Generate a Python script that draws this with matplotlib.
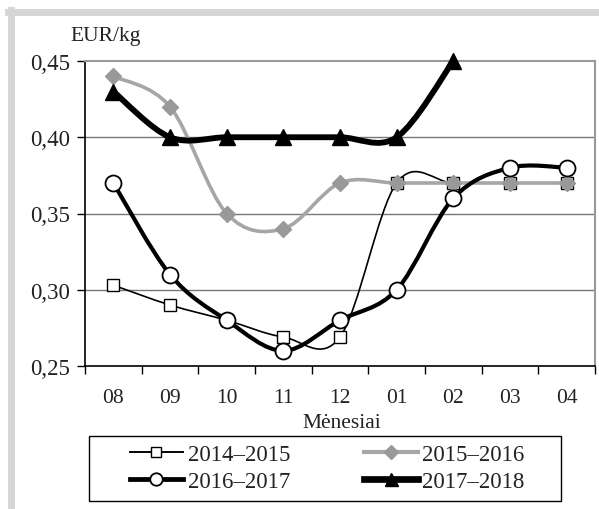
import numpy as np
import matplotlib.pyplot as plt
from matplotlib.path import Path
from matplotlib.patches import PathPatch, Rectangle
from matplotlib.lines import Line2D

plt.rcParams['font.family'] = ['Liberation Serif', 'DejaVu Serif']

# data
menesiai = ['08', '09', '10', '11', '12', '01', '02', '03', '04']
s2014 = [0.303, 0.29, 0.28, 0.269, 0.269, 0.37, 0.37, 0.37, 0.37]
s2015 = [0.44, 0.42, 0.35, 0.34, 0.37, 0.37, 0.37, 0.37, 0.37]
s2016 = [0.37, 0.31, 0.28, 0.26, 0.28, 0.30, 0.36, 0.38, 0.38]
s2017 = [0.43, 0.40, 0.40, 0.40, 0.40, 0.40, 0.45]
labels = ['2014–2015', '2015–2016', '2016–2017', '2017–2018']


def smooth_path(y):
    # Excel style smoothed line: Catmull-Rom turned into cubic Bezier segments
    x = np.arange(len(y), dtype=float)
    pts = np.column_stack([x, np.asarray(y, dtype=float)])
    verts = [pts[0]]
    codes = [Path.MOVETO]
    n = len(pts)
    for i in range(n - 1):
        p0 = pts[i - 1] if i > 0 else pts[i]
        p1 = pts[i]
        p2 = pts[i + 1]
        p3 = pts[i + 2] if i + 2 < n else pts[i + 1]
        c1 = p1 + (p2 - p0) / 6.0
        c2 = p2 - (p3 - p1) / 6.0
        verts += [c1, c2, p2]
        codes += [Path.CURVE4] * 3
    return Path(verts, codes)


styles = [
    dict(color='black', lw=1.2, marker='s', ms=8.5, mfc='white', mec='black', mew=1.0),
    dict(color='#a6a6a6', lw=2.6, marker='D', ms=8.5, mfc='#999999', mec='#999999', mew=1.0),
    dict(color='black', lw=3.0, marker='o', ms=11.5, mfc='white', mec='black', mew=1.3),
    dict(color='black', lw=4.2, marker='^', ms=12, mfc='black', mec='black', mew=1.0),
]
data = [s2014, s2015, s2016, s2017]

fig = plt.figure(figsize=(5.99, 5.10), dpi=100)
ax = fig.add_axes([85 / 599, 1 - 367 / 510, 510 / 599, 305 / 510])

handles = []
for k, (vals, st) in enumerate(zip(data, styles)):
    patch = PathPatch(smooth_path(vals), fill=False, edgecolor=st['color'],
                      lw=st['lw'], capstyle='round', joinstyle='round', zorder=3 + k)
    ax.add_patch(patch)
    ax.plot(range(len(vals)), vals, ls='none', marker=st['marker'], ms=st['ms'],
            mfc=st['mfc'], mec=st['mec'], mew=st['mew'], zorder=3 + k, clip_on=False)
    handles.append(Line2D([], [], color=st['color'], lw=st['lw'] * 1.15, marker=st['marker'],
                          ms=st['ms'] * 0.78, mfc=st['mfc'], mec=st['mec'], mew=st['mew']))

ax.set_xlim(-0.5, 8.5)
ax.set_ylim(0.25, 0.45)
ax.set_yticks([0.25, 0.30, 0.35, 0.40, 0.45])
ax.set_yticklabels(['0,25', '0,30', '0,35', '0,40', '0,45'])
ax.set_xticks(range(9))
ax.set_xticklabels(menesiai)
ax.set_xticks(np.arange(-0.5, 9, 1), minor=True)
ax.tick_params(axis='x', which='major', length=0, pad=16, labelsize=15.5, labelcolor='#222222')
ax.tick_params(axis='x', which='minor', length=6, width=1, direction='out')
ax.tick_params(axis='y', length=6, width=1, direction='out', pad=5, labelsize=16.5,
               labelcolor='#222222')

for g in [0.30, 0.35, 0.40]:
    ax.axhline(g, color='#777777', lw=1.0, zorder=1)
ax.spines['top'].set_color('#999999')
ax.spines['right'].set_color('#999999')
ax.spines['top'].set_linewidth(1.5)
ax.spines['right'].set_linewidth(1.5)
ax.spines['left'].set_linewidth(1.2)
ax.spines['bottom'].set_linewidth(1.2)

fig.text(70 / 599, 1 - 37 / 510, 'EUR/kg', fontsize=15.5, color='#222222', va='center')
fig.text(342 / 599, 1 - 423 / 510, 'Mėnesiai', fontsize=15.5, color='#222222',
         ha='center', va='center')

# legend filled row by row like the original
order = [0, 2, 1, 3]
leg = fig.legend([handles[i] for i in order], [labels[i] for i in order],
                 loc='center', ncol=2, bbox_to_anchor=(327 / 599, 1 - 469 / 510),
                 fontsize=16.5, frameon=False, handlelength=2.35,
                 handletextpad=0.2, columnspacing=3.2, borderpad=0,
                 labelspacing=0.3, borderaxespad=0)
for t in leg.get_texts():
    t.set_color('#222222')
fig.add_artist(Rectangle((89 / 599, 1 - 502 / 510), 472 / 599, 65 / 510,
                         fill=False, edgecolor='black', lw=1.0,
                         transform=fig.transFigure))

# light gray outer frame (top and left)
fig.add_artist(Line2D([8 / 599, 1], [1 - 13 / 510, 1 - 13 / 510],
                      color='#d6d6d6', lw=5, transform=fig.transFigure))
fig.add_artist(Line2D([10.5 / 599, 10.5 / 599], [1 - 11 / 510, 0],
                      color='#d6d6d6', lw=5, transform=fig.transFigure))

fig.savefig('out.png', dpi=100)
